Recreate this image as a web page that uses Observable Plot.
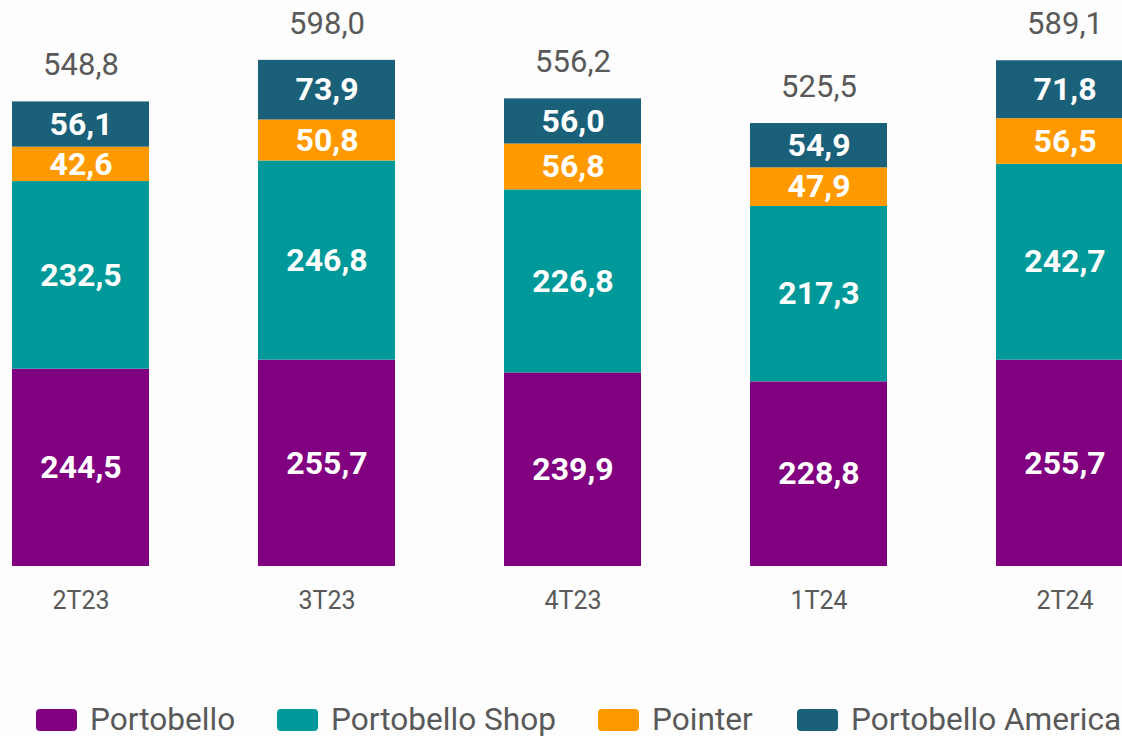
<!DOCTYPE html>
<html>
<head>
<meta charset="utf-8">
<script src="https://cdn.jsdelivr.net/npm/d3@7"></script>
<script src="https://cdn.jsdelivr.net/npm/@observablehq/plot@0.6"></script>
<style>
  html, body { margin: 0; padding: 0; background: #fdfdfd; overflow: hidden; width: 1122px; height: 736px; }
  #chart svg { display: block; }
  .legend { position: relative; white-space: nowrap; height: 40px; margin-top: 60px; font-family: Roboto, sans-serif; font-size: 31.6px; line-height: 1; color: #595959; }
  .sw { display: inline-block; width: 41px; height: 22px; border-radius: 4px; margin-right: 13px; flex: none; }
  .item { position: absolute; top: 0; height: 40px; display: flex; align-items: center; }
</style>
</head>
<body>
<div id="chart"></div>
<div class="legend" id="legend"></div>
<script>
const categories = ["2T23", "3T23", "4T23", "1T24", "2T24"];
const series = ["Portobello", "Portobello Shop", "Pointer", "Portobello America"];
const colors = ["#800080", "#009999", "#FF9900", "#1B6079"];
const portobello = [244.5, 255.7, 239.9, 228.8, 255.7];
const shop = [232.5, 246.8, 226.8, 217.3, 242.7];
const pointer = [42.6, 50.8, 56.8, 47.9, 56.5];
const america = [56.1, 73.9, 56.0, 54.9, 71.8];
const totals = [548.8, 598.0, 556.2, 525.5, 589.1];
const legendLeft = [36, 277, 598, 797];

const seriesValues = [portobello, shop, pointer, america];
const data = [];
series.forEach((s, si) => {
  categories.forEach((c, ci) => data.push({cat: c, series: s, value: seriesValues[si][ci]}));
});
const tops = categories.map((c, ci) => ({
  cat: c,
  top: seriesValues.reduce((a, arr) => a + arr[ci], 0),
  total: totals[ci]
}));
const fmt = v => v.toFixed(1).replace(".", ",");

const plot = Plot.plot({
  width: 1122,
  height: 640,
  style: {background: "transparent", fontFamily: "Roboto, sans-serif"},
  x: {type: "band", domain: categories, range: [11, 1134.4], paddingInner: 0.444, paddingOuter: 0, axis: null},
  y: {domain: [0, 700], range: [566, 566 - 700 * 0.807], axis: null},
  color: {domain: series, range: colors},
  marks: [
    Plot.barY(data, {x: "cat", y: "value", fill: "series"}),
    Plot.text(data, Plot.stackY({x: "cat", y: "value", text: d => fmt(d.value), fill: "white", fontSize: 32, fontWeight: "bold", lineAnchor: "middle"})),
    Plot.text(tops, {x: "cat", y: "top", text: d => fmt(d.total), dy: -36.5, fill: "#595959", fontSize: 31, lineAnchor: "middle"}),
    Plot.text(categories, {x: d => d, y: 0, text: d => d, dy: 34, fill: "#595959", fontSize: 25, lineAnchor: "middle"})
  ]
});
document.getElementById("chart").appendChild(plot);

const legend = document.getElementById("legend");
series.forEach((s, i) => {
  const it = document.createElement("span");
  it.className = "item";
  it.style.left = legendLeft[i] + "px";
  const sw = document.createElement("span");
  sw.className = "sw";
  sw.style.background = colors[i];
  it.appendChild(sw);
  it.appendChild(document.createTextNode(s));
  legend.appendChild(it);
});
</script>
</body>
</html>
